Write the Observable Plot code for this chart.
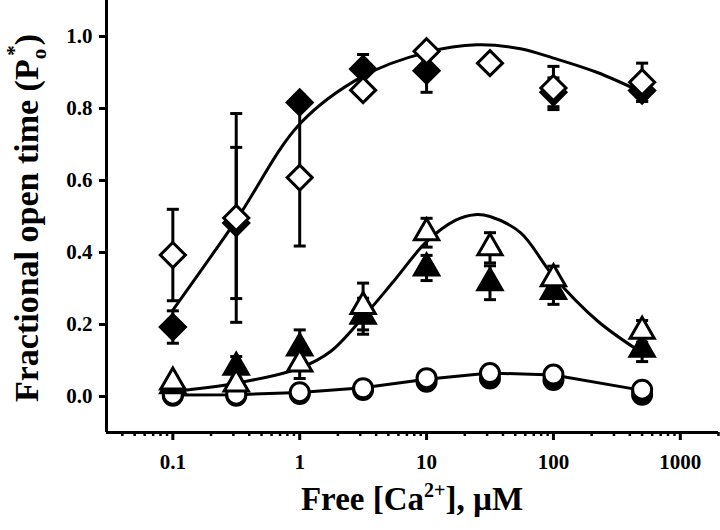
<!DOCTYPE html>
<html><head><meta charset="utf-8">
<script src="https://cdn.jsdelivr.net/npm/d3@7"></script>
<script src="https://cdn.jsdelivr.net/npm/@observablehq/plot@0.6"></script>
<style>body{margin:0;background:#fff} svg{display:block}</style>
</head><body><div id="chart"></div>
<script>
// ---- data ----
const concentrations = [0.1, 0.316, 1, 3.16, 10, 31.6, 100, 500];

const openDiamondPo   = [0.393, 0.496, 0.608, 0.851, 0.959, 0.926, 0.857, 0.873];
const openDiamondErr  = [0.127, 0.29, 0.19, 0, 0, 0, 0.06, 0.053];
const filledDiamondPo = [0.193, 0.482, 0.817, 0.91, 0.905, null, 0.845, 0.85];
const filledDiamondErr= [0.045, 0.21, 0.02, 0.04, 0.06, 0, 0.04, 0.03];

const openTrianglePo   = [0.04, 0.035, 0.09, 0.25, 0.455, 0.413, 0.327, 0.181];
const openTriangleErr  = [0, 0, 0.04, 0.065, 0.04, 0.042, 0.035, 0.03];
const filledTrianglePo = [0.03, 0.081, 0.135, 0.223, 0.357, 0.316, 0.292, 0.131];
const filledTriangleErr= [0, 0.03, 0.05, 0.05, 0.035, 0.047, 0.036, 0.034];

const openCirclePo   = [0.005, 0.005, 0.012, 0.023, 0.051, 0.065, 0.061, 0.019];
const filledCirclePo = [0.002, 0.002, 0.007, 0.018, 0.041, 0.05, 0.046, 0.005];

const diamondFitX  = [0.1, 0.316, 1, 3.16, 10, 25, 55, 100, 222, 500];
const diamondFitPo = [0.24, 0.49, 0.757, 0.89, 0.956, 0.977, 0.966, 0.94, 0.9, 0.845];
const triangleFitX  = [0.1, 0.316, 1, 1.75, 3.16, 5.5, 10, 17, 24, 31.6, 55, 100, 224, 500];
const triangleFitPo = [0.014, 0.037, 0.079, 0.125, 0.22, 0.32, 0.43, 0.49, 0.505, 0.5, 0.455, 0.334, 0.209, 0.121];
const circleFitX  = [0.1, 0.316, 1, 3.16, 10, 31.6, 100, 500];
const circleFitPo = [0.004, 0.005, 0.011, 0.024, 0.048, 0.065, 0.06, 0.017];

const yTicks = [0, 0.2, 0.4, 0.6, 0.8, 1.0];
const xMajorTicks = [0.1, 1, 10, 100, 1000];
const xMinorTicks = [0.04,0.05,0.06,0.07,0.08,0.09, 0.2,0.3,0.4,0.5,0.6,0.7,0.8,0.9,
  2,3,4,5,6,7,8,9, 20,30,40,50,60,70,80,90, 200,300,400,500,600,700,800,900, 2000];

// ---- helpers ----
const rows = (ys, errs) => concentrations.map((x, i) => ({x, y: ys[i], e: errs ? errs[i] : 0}))
  .filter(d => d.y != null);
const fit = (xs, ys) => xs.map((x, i) => ({x, y: ys[i]}));
const caps = (data) => data.filter(d => d.e > 0).flatMap(d => [{x: d.x, y: d.y - d.e}, {x: d.x, y: d.y + d.e}]);
const capSymbol = {draw(ctx, size) { const w = Math.sqrt(size); ctx.moveTo(-w / 2, 0); ctx.lineTo(w / 2, 0); }};

const oD = rows(openDiamondPo, openDiamondErr), fD = rows(filledDiamondPo, filledDiamondErr);
const oT = rows(openTrianglePo, openTriangleErr), fT = rows(filledTrianglePo, filledTriangleErr);
const oC = rows(openCirclePo), fC = rows(filledCirclePo);

const errMarks = (data) => [
  Plot.ruleX(data.filter(d => d.e > 0), {x: "x", y1: d => d.y - d.e, y2: d => d.y + d.e, stroke: "black", strokeWidth: 3}),
  Plot.dot(caps(data), {x: "x", y: "y", symbol: capSymbol, r: 6.8, stroke: "black", strokeWidth: 3, fill: "none"})
];

const plot = Plot.plot({
  width: 720, height: 530,
  marginLeft: 106, marginRight: 2, marginTop: 0, marginBottom: 98,
  x: {type: "log", domain: [0.03, 2000]},
  y: {domain: [-0.1, 1.1]},
  style: {fontFamily: "'Liberation Serif', 'Times New Roman', serif", fontWeight: "bold", fontSize: "21px", background: "white", color: "black"},
  marks: [
    Plot.axisY({ticks: yTicks, tickFormat: d3.format(".1f"), tickSize: 7, tickPadding: 7, strokeWidth: 3, label: null, fontSize: 21}),
    Plot.axisX({ticks: xMajorTicks, tickFormat: d => String(d), tickSize: 8, tickPadding: 14, strokeWidth: 3, label: null, fontSize: 21}),
    Plot.axisX({ticks: xMinorTicks, tickFormat: () => "", tickSize: 4, strokeWidth: 2.5, label: null}),
    Plot.ruleX([0.03], {stroke: "black", strokeWidth: 3}),
    Plot.ruleY([-0.1], {stroke: "black", strokeWidth: 3}),
    Plot.line(fit(circleFitX, circleFitPo), {x: "x", y: "y", stroke: "black", strokeWidth: 3}),
    Plot.line(fit(triangleFitX, triangleFitPo), {x: "x", y: "y", curve: "catmull-rom", stroke: "black", strokeWidth: 3}),
    Plot.line(fit(diamondFitX, diamondFitPo), {x: "x", y: "y", curve: "catmull-rom", stroke: "black", strokeWidth: 3}),
    ...errMarks(fD), ...errMarks(fT),
    ...errMarks(oD), ...errMarks(oT),
    Plot.dot(fC, {x: "x", y: "y", symbol: "circle", r: 9.5, fill: "black", stroke: "black", strokeWidth: 3}),
    Plot.dot(oC, {x: "x", y: "y", symbol: "circle", r: 9.5, fill: "white", stroke: "black", strokeWidth: 3}),
    Plot.dot(fT, {x: "x", y: "y", symbol: "triangle", r: 9, fill: "black", stroke: "black", strokeWidth: 3}),
    Plot.dot(oT, {x: "x", y: "y", symbol: "triangle", r: 9, fill: "white", stroke: "black", strokeWidth: 3}),
    Plot.dot(fD, {x: "x", y: "y", symbol: "diamond2", r: 11.3, fill: "black", stroke: "black", strokeWidth: 3}),
    Plot.dot(oD, {x: "x", y: "y", symbol: "diamond2", r: 11.3, fill: "white", stroke: "black", strokeWidth: 3})
  ]
});
document.getElementById("chart").appendChild(plot);

// axis titles as real SVG text with sub/superscripts
const svg = d3.select(plot);
const xt = svg.append("text").attr("x", 412).attr("y", 510).attr("text-anchor", "middle")
  .style("font-size", "33px").style("font-weight", "bold").attr("fill", "black");
xt.append("tspan").text("Free [Ca");
xt.append("tspan").attr("dy", -13).style("font-size", "20px").text("2+");
xt.append("tspan").attr("dy", 13).text("], µM");

const yt = svg.append("text").attr("transform", "translate(38,218) rotate(-90)").attr("text-anchor", "middle")
  .style("font-size", "34px").style("font-weight", "bold").attr("fill", "black");
yt.append("tspan").text("Fractional open time (P");
yt.append("tspan").attr("dy", 8).style("font-size", "21px").text("o");
yt.append("tspan").attr("dy", -25).attr("dx", -7).style("font-size", "21px").text("*");
yt.append("tspan").attr("dy", 17).text(")");
</script></body></html>
